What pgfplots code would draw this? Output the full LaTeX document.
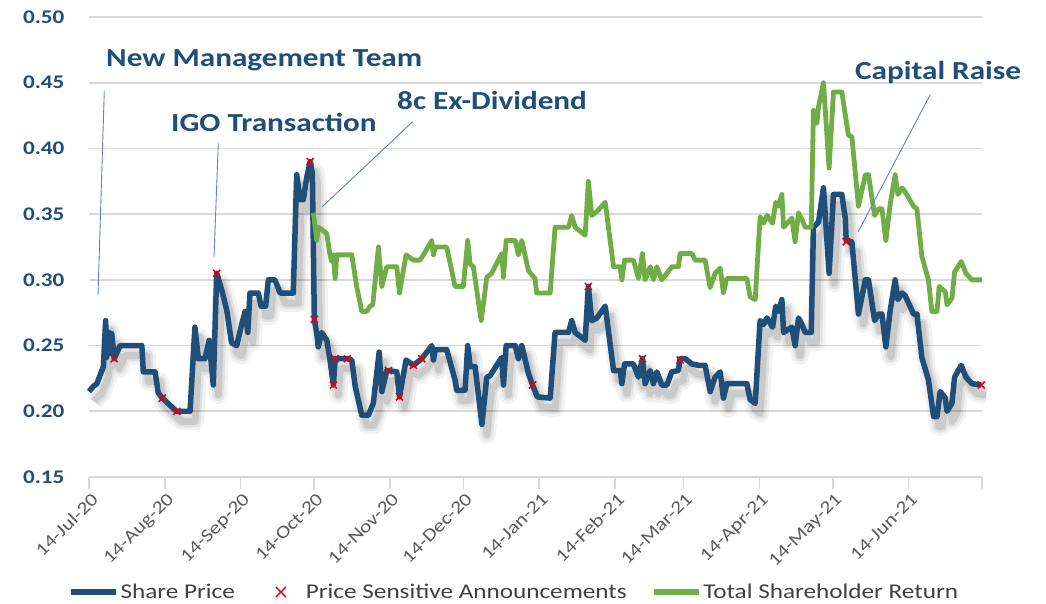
\documentclass[border=0pt]{standalone}
\usepackage{pgfplots}
\pgfplotsset{compat=1.18}
\usepackage{pgfplotstable}
\usepackage{fontspec}
\setmainfont{Carlito}[FakeStretch=1.2]
\definecolor{sblue}{HTML}{1F4E79}
\definecolor{tsr}{HTML}{70AD47}
\definecolor{lead}{HTML}{5B82CC}
\definecolor{gridc}{HTML}{D9D9D9}
\definecolor{ticktxt}{HTML}{595959}
\definecolor{legtxt}{HTML}{404040}
\definecolor{psa}{HTML}{E3000F}

% days since 14-Jul-20, share price (A$)
\pgfplotstableread{
d p
0 0.215
1.8 0.219
3.2 0.221
5.9 0.234
6.8 0.269
7.2 0.241
8.2 0.260
9.0 0.244
9.3 0.259
10.3 0.240
12.7 0.250
21.6 0.250
22.2 0.230
27.0 0.230
28.3 0.214
30.0 0.210
35.2 0.201
35.9 0.200
41.3 0.200
43.3 0.264
44.7 0.240
47.4 0.240
49.1 0.254
50.8 0.220
52.2 0.305
54.3 0.292
56.3 0.277
58.3 0.252
60.4 0.250
62.4 0.266
63.8 0.276
64.9 0.260
65.8 0.290
69.2 0.290
70.3 0.280
72.2 0.280
73.3 0.300
76.0 0.300
78.1 0.290
83.5 0.290
84.9 0.380
86.3 0.361
87.6 0.361
89.0 0.378
90.4 0.390
91.3 0.381
92.1 0.270
93.1 0.259
93.7 0.249
95.1 0.260
97.2 0.254
98.5 0.239
99.9 0.220
100.6 0.240
103.3 0.240
105.6 0.240
107.4 0.239
108.8 0.219
111.5 0.197
114.2 0.197
116.2 0.206
118.6 0.245
119.7 0.215
121.7 0.231
122.4 0.231
125.8 0.230
126.9 0.211
129.6 0.239
132.6 0.235
136.0 0.240
140.1 0.250
140.8 0.239
141.5 0.247
146.2 0.247
149.6 0.224
150.3 0.216
153.7 0.216
154.8 0.250
155.8 0.234
157.8 0.234
160.6 0.190
162.6 0.226
163.9 0.227
168.7 0.241
169.4 0.220
170.5 0.250
174.2 0.250
175.5 0.240
176.9 0.250
179.6 0.229
181.3 0.220
183.2 0.211
188.5 0.210
190.5 0.260
196.0 0.260
197.3 0.269
198.7 0.260
202.8 0.254
204.1 0.295
205.5 0.269
207.6 0.271
211.0 0.280
214.4 0.231
217.1 0.231
217.8 0.221
218.9 0.236
222.5 0.236
224.6 0.226
226.2 0.240
227.3 0.221
229.4 0.231
230.7 0.221
232.1 0.230
234.1 0.220
236.2 0.220
238.2 0.230
240.9 0.231
241.6 0.240
243.7 0.240
246.4 0.236
249.1 0.235
251.8 0.235
253.9 0.215
255.9 0.226
258.0 0.230
259.3 0.210
260.7 0.221
268.9 0.221
270.2 0.209
272.3 0.206
274.3 0.269
275.7 0.266
277.1 0.271
279.4 0.264
280.7 0.280
281.8 0.276
283.2 0.285
283.9 0.260
287.3 0.264
288.6 0.250
290.0 0.271
291.4 0.266
292.7 0.260
295.2 0.260
296.1 0.340
298.2 0.344
300.2 0.370
302.5 0.305
304.3 0.365
307.7 0.365
309.1 0.347
309.5 0.330
311.8 0.329
314.5 0.274
317.3 0.300
318.6 0.300
321.1 0.269
322.7 0.274
324.1 0.274
325.7 0.249
327.5 0.277
329.5 0.300
330.6 0.285
332.3 0.290
333.6 0.288
337.0 0.274
338.4 0.274
340.4 0.241
343.1 0.224
345.2 0.196
346.6 0.196
347.9 0.215
350.0 0.210
350.7 0.200
352.7 0.206
353.8 0.226
356.5 0.235
358.4 0.226
360.9 0.221
364.7 0.220
}\share

% total shareholder return (share price + 8c dividend)
\pgfplotstableread{
d p
91.7 0.351
93.1 0.330
93.7 0.340
95.4 0.338
97.2 0.335
98.5 0.319
99.2 0.314
99.9 0.319
100.6 0.301
101.3 0.319
107.4 0.319
109.4 0.295
111.5 0.276
113.5 0.276
114.9 0.280
116.0 0.281
118.3 0.325
119.7 0.295
121.7 0.310
125.8 0.310
126.9 0.290
129.6 0.319
132.6 0.315
135.3 0.315
136.7 0.319
140.1 0.330
140.8 0.319
141.5 0.325
146.2 0.325
149.6 0.295
153.0 0.295
154.8 0.330
155.8 0.312
157.1 0.310
160.3 0.269
162.6 0.302
164.6 0.305
168.7 0.320
169.4 0.302
170.5 0.330
174.2 0.330
175.5 0.319
176.9 0.330
179.6 0.307
182.3 0.301
183.0 0.290
188.5 0.290
190.5 0.340
196.0 0.340
197.3 0.349
198.7 0.340
202.8 0.334
204.1 0.375
205.5 0.349
207.6 0.352
211.0 0.359
214.4 0.310
217.1 0.310
217.8 0.300
218.9 0.315
222.5 0.315
224.6 0.301
226.2 0.320
227.3 0.300
229.4 0.310
230.7 0.300
232.1 0.310
234.1 0.300
236.2 0.305
238.2 0.310
240.9 0.310
241.6 0.320
244.4 0.320
246.4 0.320
247.8 0.315
251.8 0.315
253.9 0.294
255.9 0.305
258.0 0.309
259.3 0.290
260.7 0.301
268.9 0.301
270.2 0.287
272.3 0.285
274.3 0.348
275.7 0.343
277.1 0.349
279.4 0.343
280.7 0.359
281.8 0.356
283.2 0.365
283.9 0.340
287.3 0.347
288.6 0.329
290.0 0.351
291.4 0.346
292.7 0.340
295.2 0.340
296.1 0.429
297.5 0.419
298.2 0.432
300.2 0.450
302.5 0.385
304.3 0.443
307.7 0.443
310.4 0.410
311.8 0.409
314.5 0.356
317.3 0.380
318.6 0.380
321.1 0.349
322.7 0.354
324.1 0.354
325.7 0.330
327.5 0.358
329.5 0.380
330.6 0.365
332.3 0.370
333.6 0.367
337.0 0.356
338.4 0.354
340.4 0.318
343.1 0.300
344.5 0.276
346.6 0.276
347.5 0.295
350.0 0.291
350.7 0.281
352.7 0.286
353.8 0.306
356.5 0.314
358.4 0.305
360.9 0.300
365.0 0.300
}\tsr

% price sensitive announcements
\pgfplotstableread{
d p
10.3 0.240
30.0 0.210
35.9 0.200
52.2 0.305
90.4 0.390
92.1 0.270
99.9 0.220
100.6 0.240
105.6 0.240
122.4 0.231
126.9 0.211
132.6 0.235
136.0 0.240
181.3 0.220
204.1 0.295
226.2 0.240
241.6 0.239
309.5 0.329
364.7 0.220
}\ann

\begin{document}
\begin{tikzpicture}
\useasboundingbox (-89pt,-126pt) rectangle (957pt,477pt);
\begin{axis}[
  at={(0pt,0pt)}, anchor=south west,
  scale only axis, width=893pt, height=460pt,
  xmin=0, xmax=365, ymin=0.15, ymax=0.50,
  clip=false,
  axis line style={draw=none},
  ytick={0.15,0.20,0.25,0.30,0.35,0.40,0.45,0.50},
  ymajorgrids, grid style={draw=gridc, line width=1.6pt},
  ytick style={draw=none},
  yticklabel style={/pgf/number format/.cd, fixed, fixed zerofill, precision=2, assume math mode=true, /tikz/.cd,
     font=\bfseries\fontsize{19.3}{20}\selectfont, text=sblue, anchor=east, xshift=-9pt},
  xtick={0,31,62,92,123,153,184,215,243,274,304,335,365},
  xticklabels={14-Jul-20,14-Aug-20,14-Sep-20,14-Oct-20,14-Nov-20,14-Dec-20,14-Jan-21,14-Feb-21,14-Mar-21,14-Apr-21,14-May-21,14-Jun-21,{}},
  xtick pos=left, tick align=outside, major tick length=12pt,
  xtick style={draw=gridc, line width=1.6pt},
  xticklabel style={font=\fontsize{18}{19}\selectfont, text=ticktxt, rotate=45, anchor=north east, inner sep=0pt, xshift=-1pt, yshift=-3pt},
  legend columns=3,
  legend style={draw=none, fill=none, at={(0.476,-0.25)}, anchor=center,
     font=\fontsize{21}{22}\selectfont, text=legtxt,
     /tikz/every even column/.append style={column sep=22pt},
     /tikz/every odd column/.append style={column sep=0pt}},
  legend cell align=left,
]
% drop shadow of the share price line
\addplot[black, opacity=0.05, line width=18pt, line join=round, xshift=5pt, yshift=-10pt, forget plot] table[x=d,y=p] {\share};
\addplot[black, opacity=0.07, line width=12pt, line join=round, xshift=5pt, yshift=-10pt, forget plot] table[x=d,y=p] {\share};
\addplot[black, opacity=0.10, line width=7pt, line join=round, xshift=5pt, yshift=-10pt, forget plot] table[x=d,y=p] {\share};

\addplot[sblue, line width=5.5pt, line join=round, no marks,
  legend image code/.code={\draw[sblue, line width=5.5pt] (0pt,0pt) -- (45pt,0pt);}]
  table[x=d,y=p] {\share};
\addlegendentry{Share Price}

\addplot[tsr, line width=4.8pt, line join=round, no marks, forget plot] table[x=d,y=p] {\tsr};

\addplot[only marks, mark=x, mark size=5pt, mark options={psa, line width=1.5pt},
  legend image code/.code={\path[draw=none] (0pt,0pt) -- (45pt,0pt); \draw[psa, line width=1.5pt] (17pt,-5pt) -- (27pt,5pt) (17pt,5pt) -- (27pt,-5pt);}]
  table[x=d,y=p] {\ann};
\addlegendentry{Price Sensitive Announcements}

\addlegendimage{tsr, line width=4.8pt, legend image code/.code={\draw[tsr, line width=5.5pt] (0pt,0pt) -- (45pt,0pt);}}
\addlegendentry{Total Shareholder Return}
\end{axis}

% annotations with leader lines
\draw[lead, line width=0.9pt] (15.3pt,386.3pt) -- (9pt,182pt);
\draw[lead, line width=0.9pt] (129.3pt,333.7pt) -- (125pt,220pt);
\draw[lead, line width=0.9pt] (323.7pt,355.3pt) -- (233pt,270pt);
\draw[lead, line width=0.9pt] (841pt,382pt) -- (769pt,245pt);
\begin{scope}[every node/.style={anchor=base west, inner sep=0pt, text=sblue, font=\bfseries\fontsize{26}{27}\selectfont}]
\node at (17pt,410pt) {New Management Team};
\node at (82pt,345pt) {IGO Transaction};
\node at (308pt,367pt) {8c Ex-Dividend};
\node at (766pt,397pt) {Capital Raise};
\end{scope}
\end{tikzpicture}
\end{document}
